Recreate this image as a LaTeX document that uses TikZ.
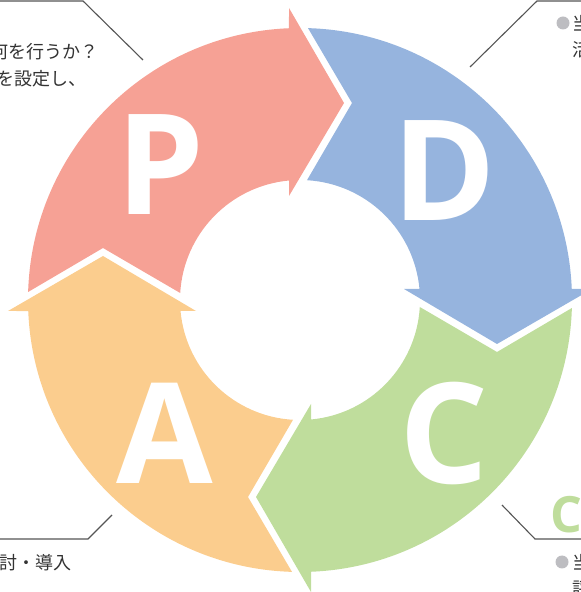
\documentclass[tikz,border=0pt]{standalone}
\usepackage{fontspec}
\setmainfont{Open Sans}
\newfontfamily\jpfont{Noto Sans CJK JP}
\usepackage{xcolor}
\definecolor{planred}{HTML}{F6A195}
\definecolor{doblue}{HTML}{96B4DE}
\definecolor{checkgreen}{HTML}{BFDD9C}
\definecolor{actorange}{HTML}{FBCD8E}
\definecolor{calloutgray}{HTML}{555555}
\definecolor{bulletgray}{HTML}{BDBDC1}
\definecolor{notetext}{HTML}{333333}

\begin{document}
\begin{tikzpicture}[x=1pt,y=1pt]
    \tikzstyle{letter} = [
      text=white,
      font=\fontsize{140}{140}\selectfont\bfseries,
      inner sep=0pt,
    ]
    \tikzstyle{note} = [
      text=notetext,
      font=\fontsize{18}{18}\selectfont\jpfont,
      inner sep=0pt,
    ]
    \tikzstyle{callout} = [
      draw=calloutgray,
      line width=1.1pt,
    ]
    \tikzstyle{bullet} = [
      circle,
      fill=bulletgray,
      inner sep=0pt,
      minimum size=13pt,
    ]

    \newcommand{\ringarrow}[2]{
      \fill[#1,rotate=#2] (178.31:272) arc[start angle=178.31, end angle=92.32, radius=272]
        -- (-11,292) -- (44,197) -- (-11,104) -- (95.26:120)
        arc[start angle=95.26, end angle=176.66, radius=120] -- (-197,52) -- cycle;
    }

    \path[use as bounding box] (0,0) rectangle (581,592);
    \clip (0,0) rectangle (581,592);

    \coordinate (origo) at (300,292);

    % the four quarters of the cycle
    \begin{scope}[shift={(origo)}]
      \ringarrow{planred}{0}
      \ringarrow{doblue}{-90}
      \ringarrow{checkgreen}{-180}
      \ringarrow{actorange}{-270}
    \end{scope}

    \node[letter] (plan) at (160,427) {P};
    \node[letter] (do) at (444,421) {D};
    \node[letter] (check) at (444,159) {C};
    \node[letter] (act) at (165,159) {A};

    % callouts
    \coordinate (planend) at (143,532);
    \coordinate (planknee) at (83,591);
    \coordinate (planout) at (-5,591);
    \draw[callout] (planend)--(planknee)--(planout);
    \node[note,anchor=base west] (plannoteI) at (-10,533) {何を行うか？};
    \node[note,anchor=base west] (plannoteII) at (-4,506) {を設定し、};

    \coordinate (doend) at (470,525);
    \coordinate (doknee) at (537,591);
    \coordinate (doout) at (590,591);
    \draw[callout] (doend)--(doknee)--(doout);
    \node[bullet] (dobullet) at (563,569) {};
    \node[note,anchor=base west] (donoteI) at (572,561) {当};
    \node[note,anchor=base west] (donoteII) at (572,535) {活};

    \coordinate (checkend) at (502,87);
    \coordinate (checkknee) at (535,53);
    \coordinate (checkout) at (590,53);
    \draw[callout] (checkend)--(checkknee)--(checkout);
    \node[anchor=base west,inner sep=0pt,text=checkgreen,font=\fontsize{50}{50}\selectfont\bfseries] (checkhead) at (550,59) {C};
    \node[bullet] (checkbullet) at (562,30) {};
    \node[note,anchor=base west] (checknoteI) at (572,22) {当};
    \node[note,anchor=base west] (checknoteII) at (572,-4) {評};

    \coordinate (actend) at (112,77);
    \coordinate (actknee) at (88,53);
    \coordinate (actout) at (-5,53);
    \draw[callout] (actend)--(actknee)--(actout);
    \node[note,anchor=base east] (actnote) at (72,23) {検討・導入};
  \end{tikzpicture}
\end{document}
